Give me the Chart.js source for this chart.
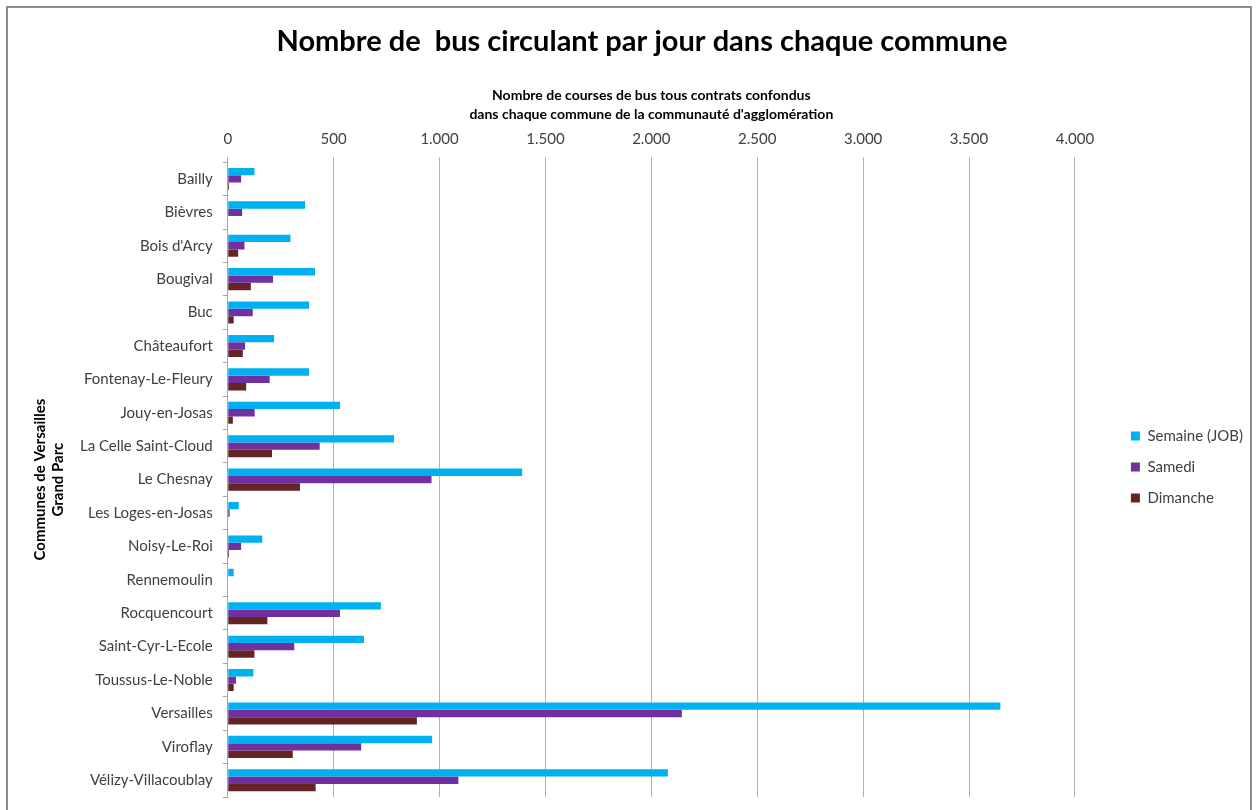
<!DOCTYPE html>
<html>
<head>
<meta charset="utf-8">
<script src="https://cdn.jsdelivr.net/npm/chart.js@4"></script>
<style>
  body { margin: 0; background: #fff; }
</style>
</head>
<body>
<canvas id="busChart" width="1257" height="810"></canvas>
<script>
const communes = [
  'Bailly', 'Bièvres', "Bois d'Arcy", 'Bougival', 'Buc', 'Châteaufort',
  'Fontenay-Le-Fleury', 'Jouy-en-Josas', 'La Celle Saint-Cloud', 'Le Chesnay',
  'Les Loges-en-Josas', 'Noisy-Le-Roi', 'Rennemoulin', 'Rocquencourt',
  'Saint-Cyr-L-Ecole', 'Toussus-Le-Noble', 'Versailles', 'Viroflay',
  'Vélizy-Villacoublay'
];
const semaine = [126, 365, 296, 412, 384, 219, 384, 530, 785, 1390, 52, 163, 28, 723, 643, 121, 3648, 965, 2078];
const samedi = [63, 68, 79, 214, 118, 82, 198, 127, 434, 962, 9, 63, 0, 530, 314, 39, 2144, 630, 1089];
const dimanche = [6, 0, 49, 109, 28, 71, 87, 24, 209, 341, 0, 6, 0, 187, 126, 28, 893, 307, 415];

const xMin = 0;
const xMax = 4000;
const xStep = 500;

const font = 'Lato, "Liberation Sans", sans-serif';

// white background plus the grey frame round the whole chart
const frame = {
  id: 'frame',
  beforeDraw(chart) {
    const ctx = chart.ctx;
    ctx.save();
    ctx.fillStyle = '#ffffff';
    ctx.fillRect(0, 0, chart.width, chart.height);
    ctx.strokeStyle = '#8c8c8c';
    ctx.lineWidth = 2;
    ctx.strokeRect(7, 7, chart.width - 13, chart.height + 10);
    ctx.restore();
  }
};

const data = {
  labels: communes,
  datasets: [
    { label: 'Semaine (JOB)', data: semaine, backgroundColor: '#00b0f0' },
    { label: 'Samedi', data: samedi, backgroundColor: '#7030a0' },
    { label: 'Dimanche', data: dimanche, backgroundColor: '#632523' }
  ]
};

const config = {
  type: 'bar',
  data: data,
  plugins: [frame],
  options: {
    indexAxis: 'y',
    responsive: false,
    animation: false,
    datasets: {
      bar: { barPercentage: 1, categoryPercentage: 0.66 }
    },
    layout: {
      padding: { left: 31, right: 4, top: 10, bottom: 13 }
    },
    plugins: {
      title: {
        display: true,
        text: 'Nombre de  bus circulant par jour dans chaque commune',
        color: '#000',
        font: { family: font, size: 29, weight: 'bold' },
        padding: { top: 14, bottom: 28 }
      },
      legend: {
        position: 'right',
        fullSize: false,
        align: 'start',
        title: {
          // empty title, only used as top spacing for the legend items
          display: true,
          text: '',
          padding: { top: 236, bottom: 0 }
        },
        labels: {
          boxWidth: 9,
          boxHeight: 9,
          padding: 16,
          color: '#404040',
          font: { family: font, size: 15 }
        }
      },
      tooltip: { enabled: false }
    },
    scales: {
      x: {
        position: 'top',
        min: xMin,
        max: xMax,
        ticks: {
          stepSize: xStep,
          color: '#404040',
          padding: 9,
          font: { family: font, size: 15 },
          callback: v => v.toLocaleString('de-DE')
        },
        grid: { color: '#b0b0b0', tickLength: 5 },
        border: { display: false },
        title: {
          display: true,
          text: ['Nombre de courses de bus tous contrats confondus',
                 "dans chaque commune de la communauté d'agglomération"],
          color: '#000',
          font: { family: font, size: 14, weight: 'bold', lineHeight: 1.3 },
          padding: { top: 0, bottom: -2 }
        }
      },
      y: {
        ticks: {
          color: '#404040',
          padding: 10,
          font: { family: font, size: 15 }
        },
        grid: { drawOnChartArea: false, color: '#a6a6a6', tickLength: 5 },
        border: { color: '#a6a6a6' },
        title: {
          display: true,
          text: ['Communes de Versailles', 'Grand Parc'],
          color: '#000',
          font: { family: font, size: 15, weight: 'bold', lineHeight: 1.2 },
          padding: { top: 0, bottom: 3 }
        },
        // labels sit mid-category, so no extra room is needed above or below
        afterFit(scale) {
          scale.paddingTop = 0;
          scale.paddingBottom = 0;
        }
      },
      // empty axis keeping a gap between the bars and the legend
      gap: {
        axis: 'y',
        type: 'category',
        position: 'right',
        grid: { display: false },
        ticks: { display: false },
        border: { display: false },
        afterFit(scale) { scale.width = 40; }
      }
    }
  }
};

const busChart = new Chart(document.getElementById('busChart'), config);
</script>
</body>
</html>
